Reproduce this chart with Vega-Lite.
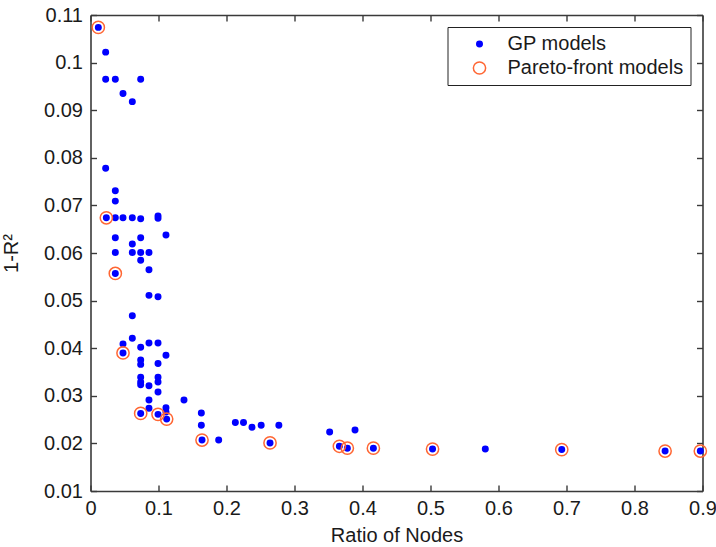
{
  "$schema": "https://vega.github.io/schema/vega-lite/v6.json",
  "width": 612,
  "height": 476,
  "autosize": "none",
  "padding": {"left": 90.5, "top": 15, "right": 13.5, "bottom": 56},
  "background": "white",
  "config": {
    "view": {"stroke": null},
    "font": "Liberation Sans",
    "axis": {
      "grid": false,
      "domainColor": "#3a3a3a",
      "domainWidth": 1.6,
      "tickColor": "#3a3a3a",
      "tickWidth": 1.4,
      "tickSize": -6,
      "labelFont": "Liberation Sans",
      "labelFontSize": 20,
      "labelColor": "#1a1a1a",
      "titleFont": "Liberation Sans",
      "titleFontSize": 20,
      "titleFontWeight": "normal",
      "titleColor": "#1a1a1a"
    },
    "legend": {
      "labelFont": "Liberation Sans",
      "labelFontSize": 20,
      "labelColor": "#1a1a1a",
      "labelLimit": 400,
      "strokeColor": "#222222",
      "fillColor": "white",
      "padding": 7,
      "symbolStrokeWidth": 1.5,
      "rowPadding": 4,
      "labelOffset": 18,
      "symbolOffset": 15
    }
  },
  "data": {
    "values": [
      {"x": 0.0115, "y": 0.1074, "series": "GP models"},
      {"x": 0.0223, "y": 0.1022, "series": "GP models"},
      {"x": 0.0223, "y": 0.0965, "series": "GP models"},
      {"x": 0.0365, "y": 0.0965, "series": "GP models"},
      {"x": 0.0738, "y": 0.0965, "series": "GP models"},
      {"x": 0.0478, "y": 0.0935, "series": "GP models"},
      {"x": 0.0615, "y": 0.0918, "series": "GP models"},
      {"x": 0.0223, "y": 0.0778, "series": "GP models"},
      {"x": 0.0365, "y": 0.0731, "series": "GP models"},
      {"x": 0.0365, "y": 0.0709, "series": "GP models"},
      {"x": 0.0233, "y": 0.0674, "series": "GP models"},
      {"x": 0.0365, "y": 0.0674, "series": "GP models"},
      {"x": 0.0478, "y": 0.0674, "series": "GP models"},
      {"x": 0.0615, "y": 0.0674, "series": "GP models"},
      {"x": 0.0738, "y": 0.0672, "series": "GP models"},
      {"x": 0.0993, "y": 0.0678, "series": "GP models"},
      {"x": 0.0993, "y": 0.0673, "series": "GP models"},
      {"x": 0.111, "y": 0.0638, "series": "GP models"},
      {"x": 0.0365, "y": 0.0632, "series": "GP models"},
      {"x": 0.0738, "y": 0.0632, "series": "GP models"},
      {"x": 0.0615, "y": 0.0619, "series": "GP models"},
      {"x": 0.0365, "y": 0.0601, "series": "GP models"},
      {"x": 0.0615, "y": 0.0601, "series": "GP models"},
      {"x": 0.0738, "y": 0.0601, "series": "GP models"},
      {"x": 0.086, "y": 0.0601, "series": "GP models"},
      {"x": 0.0738, "y": 0.0585, "series": "GP models"},
      {"x": 0.086, "y": 0.0565, "series": "GP models"},
      {"x": 0.0365, "y": 0.0557, "series": "GP models"},
      {"x": 0.086, "y": 0.0511, "series": "GP models"},
      {"x": 0.0993, "y": 0.0508, "series": "GP models"},
      {"x": 0.0615, "y": 0.0468, "series": "GP models"},
      {"x": 0.0615, "y": 0.0421, "series": "GP models"},
      {"x": 0.0478, "y": 0.0409, "series": "GP models"},
      {"x": 0.086, "y": 0.0411, "series": "GP models"},
      {"x": 0.0993, "y": 0.0411, "series": "GP models"},
      {"x": 0.0738, "y": 0.0402, "series": "GP models"},
      {"x": 0.0478, "y": 0.039, "series": "GP models"},
      {"x": 0.111, "y": 0.0385, "series": "GP models"},
      {"x": 0.0738, "y": 0.0375, "series": "GP models"},
      {"x": 0.0738, "y": 0.0366, "series": "GP models"},
      {"x": 0.0993, "y": 0.0368, "series": "GP models"},
      {"x": 0.0738, "y": 0.0339, "series": "GP models"},
      {"x": 0.0738, "y": 0.0329, "series": "GP models"},
      {"x": 0.0738, "y": 0.0323, "series": "GP models"},
      {"x": 0.086, "y": 0.0321, "series": "GP models"},
      {"x": 0.0993, "y": 0.0339, "series": "GP models"},
      {"x": 0.0993, "y": 0.0329, "series": "GP models"},
      {"x": 0.0993, "y": 0.0308, "series": "GP models"},
      {"x": 0.086, "y": 0.0291, "series": "GP models"},
      {"x": 0.1375, "y": 0.0291, "series": "GP models"},
      {"x": 0.086, "y": 0.0274, "series": "GP models"},
      {"x": 0.111, "y": 0.0275, "series": "GP models"},
      {"x": 0.0738, "y": 0.0263, "series": "GP models"},
      {"x": 0.0993, "y": 0.0261, "series": "GP models"},
      {"x": 0.111, "y": 0.0266, "series": "GP models"},
      {"x": 0.112, "y": 0.0251, "series": "GP models"},
      {"x": 0.163, "y": 0.0264, "series": "GP models"},
      {"x": 0.163, "y": 0.0238, "series": "GP models"},
      {"x": 0.164, "y": 0.0207, "series": "GP models"},
      {"x": 0.1885, "y": 0.0207, "series": "GP models"},
      {"x": 0.213, "y": 0.0244, "series": "GP models"},
      {"x": 0.225, "y": 0.0244, "series": "GP models"},
      {"x": 0.2375, "y": 0.0234, "series": "GP models"},
      {"x": 0.251, "y": 0.0238, "series": "GP models"},
      {"x": 0.277, "y": 0.0238, "series": "GP models"},
      {"x": 0.264, "y": 0.0201, "series": "GP models"},
      {"x": 0.3517, "y": 0.0224, "series": "GP models"},
      {"x": 0.389, "y": 0.0228, "series": "GP models"},
      {"x": 0.366, "y": 0.0194, "series": "GP models"},
      {"x": 0.3777, "y": 0.019, "series": "GP models"},
      {"x": 0.416, "y": 0.019, "series": "GP models"},
      {"x": 0.503, "y": 0.0188, "series": "GP models"},
      {"x": 0.5806, "y": 0.0188, "series": "GP models"},
      {"x": 0.693, "y": 0.0187, "series": "GP models"},
      {"x": 0.845, "y": 0.0184, "series": "GP models"},
      {"x": 0.8968, "y": 0.0184, "series": "GP models"},
      {"x": 0.0115, "y": 0.1074, "series": "Pareto-front models"},
      {"x": 0.0233, "y": 0.0674, "series": "Pareto-front models"},
      {"x": 0.0365, "y": 0.0557, "series": "Pareto-front models"},
      {"x": 0.0478, "y": 0.039, "series": "Pareto-front models"},
      {"x": 0.0738, "y": 0.0263, "series": "Pareto-front models"},
      {"x": 0.0993, "y": 0.0261, "series": "Pareto-front models"},
      {"x": 0.112, "y": 0.0251, "series": "Pareto-front models"},
      {"x": 0.164, "y": 0.0207, "series": "Pareto-front models"},
      {"x": 0.264, "y": 0.0201, "series": "Pareto-front models"},
      {"x": 0.366, "y": 0.0194, "series": "Pareto-front models"},
      {"x": 0.3777, "y": 0.019, "series": "Pareto-front models"},
      {"x": 0.416, "y": 0.019, "series": "Pareto-front models"},
      {"x": 0.503, "y": 0.0188, "series": "Pareto-front models"},
      {"x": 0.693, "y": 0.0187, "series": "Pareto-front models"},
      {"x": 0.845, "y": 0.0184, "series": "Pareto-front models"},
      {"x": 0.8968, "y": 0.0184, "series": "Pareto-front models"}
    ]
  },
  "layer": [
    {
      "mark": {"type": "point", "filled": true, "strokeWidth": 1.5, "opacity": 1},
      "encoding": {
        "x": {
          "field": "x", "type": "quantitative",
          "scale": {"domain": [0, 0.9], "nice": false, "zero": false},
          "axis": {
            "orient": "bottom", "title": "Ratio of Nodes",
            "values": [0, 0.1, 0.2, 0.3, 0.4, 0.5, 0.6, 0.7, 0.8, 0.9],
            "format": "~g", "labelPadding": 13, "titlePadding": 7,
            "labelFlush": false, "labelOverlap": false
          }
        },
        "y": {
          "field": "y", "type": "quantitative",
          "scale": {"domain": [0.01, 0.11], "nice": false, "zero": false},
          "axis": {
            "orient": "left", "title": "1-R²",
            "values": [0.01, 0.02, 0.03, 0.04, 0.05, 0.06, 0.07, 0.08, 0.09, 0.1, 0.11],
            "format": "~g", "labelPadding": 14, "titlePadding": 22,
            "labelFlush": false, "labelOverlap": false
          }
        },
        "fill": {
          "field": "series", "type": "nominal",
          "scale": {"domain": ["GP models", "Pareto-front models"], "range": ["#0000ff", "rgba(0,0,0,0)"]},
          "legend": {"title": null, "orient": "top-right", "offset": 12, "labelExpr": "datum.label + '\u00a0\u00a0'"}
        },
        "stroke": {
          "field": "series", "type": "nominal",
          "scale": {"domain": ["GP models", "Pareto-front models"], "range": ["#0000ff", "#ff6633"]},
          "legend": {"title": null, "orient": "top-right", "offset": 12, "labelExpr": "datum.label + '\u00a0\u00a0'"}
        },
        "size": {
          "field": "series", "type": "nominal",
          "scale": {"domain": ["GP models", "Pareto-front models"], "range": [30, 150]},
          "legend": {"title": null, "orient": "top-right", "offset": 12, "labelExpr": "datum.label + '\u00a0\u00a0'"}
        }
      }
    },
    {
      "mark": {"type": "point", "opacity": 0},
      "encoding": {
        "x": {
          "field": "x", "type": "quantitative",
          "axis": {
            "orient": "top", "title": null, "labels": false,
            "values": [0, 0.1, 0.2, 0.3, 0.4, 0.5, 0.6, 0.7, 0.8, 0.9]
          }
        },
        "y": {
          "field": "y", "type": "quantitative",
          "axis": {
            "orient": "right", "title": null, "labels": false,
            "values": [0.01, 0.02, 0.03, 0.04, 0.05, 0.06, 0.07, 0.08, 0.09, 0.1, 0.11]
          }
        }
      }
    }
  ],
  "resolve": {"axis": {"x": "independent", "y": "independent"}}
}
